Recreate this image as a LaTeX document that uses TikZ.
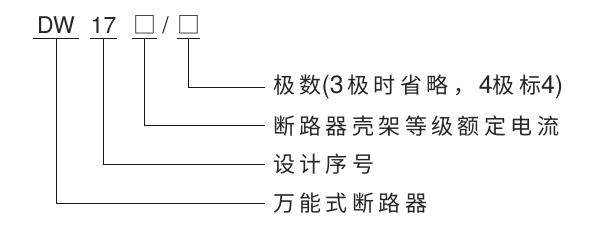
\documentclass[tikz,border=0pt]{standalone}
\usepackage{fontspec}
\setmainfont{Noto Sans CJK SC}
\newfontfamily\cjk[LetterSpace=20]{Noto Sans CJK SC}
\newfontfamily\lat{TeX Gyre Heros}
\newcommand{\latn}[1]{{\lat\fontsize{25}{25}\selectfont #1}}
\usetikzlibrary{positioning}

\begin{document}
\begin{tikzpicture}[x=1pt, y=-1pt,
    node distance=38.7pt,
    code/.style={inner sep=0pt, anchor=base, font=\lat\fontsize{23}{23}\selectfont, text=black!85},
    lbl/.style={inner sep=0pt, anchor=west, font=\cjk\fontsize{22}{22}\selectfont, text=black!85},
    lead/.style={line width=0.9pt, draw=black!90}
  ]
  \useasboundingbox (0,0) rectangle (615,238);
  % model code
  \node[code, minimum width=46pt] (dw) at (56,34) {DW};
  \node[code, minimum width=27pt] (series) at (103.5,34) {17};
  \node[code, minimum width=25pt] (frame) at (144.5,34) {\cjk □};
  \node[code] (slash) at (165.5,34) {/};
  \node[code, minimum width=23pt] (poles) at (188.5,34) {\cjk □};
  \foreach \n in {dw,series,frame,poles}
    \draw[lead] ([yshift=-4pt]\n.base west) -- ([yshift=-4pt]\n.base east);
  % meaning of each part
  \node[lbl] (polesl) at (273,87)
    {极数\latn{(3}\,极时省略，\,\latn{4}极标\latn{4)}};
  \node[lbl, below=of polesl.west, anchor=west] (framel) {断路器壳架等级额定电流};
  \node[lbl, below=of framel.west, anchor=west] (seriesl) {设计序号};
  \node[lbl, below=of seriesl.west, anchor=west] (dwl) {万能式断路器};
  \draw[lead, shorten >=8pt] ([yshift=-4pt]poles.base) |- (polesl.west);
  \draw[lead, shorten >=8pt] ([yshift=-4pt]frame.base) |- (framel.west);
  \draw[lead, shorten >=8pt] ([yshift=-4pt]series.base) |- (seriesl.west);
  \draw[lead, shorten >=8pt] ([yshift=-4pt]dw.base) |- (dwl.west);
\end{tikzpicture}
\end{document}
